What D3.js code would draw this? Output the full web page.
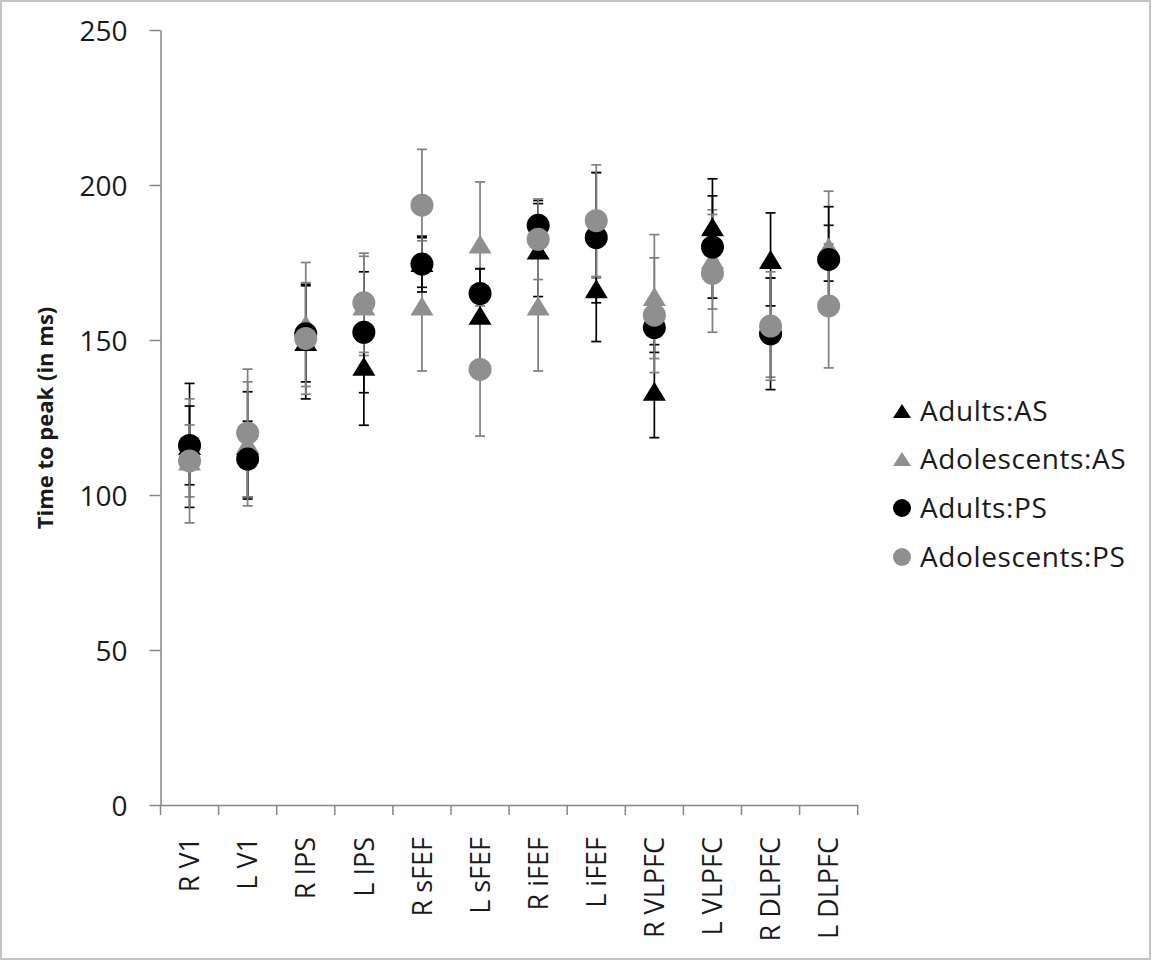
<!DOCTYPE html>
<html>
<head>
<meta charset="utf-8">
<script src="https://cdn.jsdelivr.net/npm/d3@7"></script>
<style>
  body { margin: 0; background: #fff; }
  text { font-family: "Open Sans", sans-serif; fill: #1a1a1a; }
</style>
</head>
<body>
<div id="chart"></div>
<script>
// regions on the x axis
var regions = ["R V1", "L V1", "R IPS", "L IPS", "R sFEF", "L sFEF", "R iFEF", "L iFEF",
               "R VLPFC", "L VLPFC", "R DLPFC", "L DLPFC"];

// time to peak (ms) and error bar half-widths per series
var adultsAS      = [116, 116, 149.5, 141.5, 175, 158, 179, 166.5, 133.5, 186.5, 176, 178];
var adultsASerr   = [20, 17.3, 18.5, 19, 8, 15, 15, 17, 15, 15.5, 15, 9];
var adolAS        = [111, 116.5, 155, 161, 161, 181, 161, 187, 164, 176, 154, 180];
var adolASerr     = [20, 20, 20, 16, 21, 20, 21, 17, 20, 16, 16, 18];
var adultsPS      = [116, 111.6, 152, 152.5, 174.5, 165, 187, 183, 154, 180, 152, 176];
var adultsPSerr   = [12.7, 12.2, 15.5, 19.5, 9, 8, 8, 21, 8, 16.5, 18, 17];
var adolPS        = [111, 120, 150.5, 162, 193.5, 140.5, 182.5, 188.5, 158, 171.5, 154.5, 161];
var adolPSerr     = [11.6, 20.6, 18, 16, 18, 21.5, 13, 18, 18.5, 19, 17.5, 20];

var yTicks = [0, 50, 100, 150, 200, 250];

var series = [
    {name: "Adults:AS", shape: "tri", color: "#000000", vals: adultsAS, errs: adultsASerr},
    {name: "Adolescents:AS", shape: "tri", color: "#8f8f8f", vals: adolAS, errs: adolASerr},
    {name: "Adults:PS", shape: "circ", color: "#000000", vals: adultsPS, errs: adultsPSerr},
    {name: "Adolescents:PS", shape: "circ", color: "#8f8f8f", vals: adolPS, errs: adolPSerr}
];

var W = 1152, H = 961;
var svg = d3.select("#chart").append("svg")
    .attr("width", W).attr("height", H);

// outer frame
svg.append("rect").attr("x", 1).attr("y", 1).attr("width", W - 3).attr("height", H - 3)
    .attr("fill", "#fff").attr("stroke", "#c4c4c4").attr("stroke-width", 2);

var x = d3.scaleBand().domain(regions).range([160.5, 857.7]);
var y = d3.scaleLinear().domain([0, 250]).range([805, 30]);

// y axis
var yAxis = svg.append("g").attr("transform", "translate(160.5,0)")
    .call(d3.axisLeft(y).tickValues(yTicks).tickSize(11).tickPadding(22).tickSizeOuter(0));
yAxis.select(".domain").attr("stroke", "#868686").attr("stroke-width", 1.5);
yAxis.selectAll(".tick line").attr("stroke", "#868686").attr("stroke-width", 1.5);
yAxis.selectAll(".tick text").style("font-size", "28px").attr("fill", "#1a1a1a")
    .style("font-family", "'Open Sans', sans-serif").attr("dy", "0.36em");

// x axis with ticks on band boundaries
var xAxis = svg.append("g").attr("transform", "translate(0,805)")
    .call(d3.axisBottom(x).tickSize(0).tickSizeOuter(0));
xAxis.select(".domain").attr("stroke", "#868686").attr("stroke-width", 1.5);
xAxis.selectAll(".tick text")
    .style("font-size", "27px").attr("fill", "#1a1a1a")
    .style("font-family", "'Open Sans', sans-serif")
    .attr("text-anchor", "end")
    .attr("transform", "rotate(-90)")
    .attr("x", -32).attr("y", 0).attr("dy", "0.36em");

var bounds = regions.map(function(d) { return x(d); }).concat([x.range()[1]]);
svg.append("g").selectAll("line").data(bounds).enter().append("line")
    .attr("x1", d => d).attr("x2", d => d)
    .attr("y1", 805).attr("y2", 815)
    .attr("stroke", "#868686").attr("stroke-width", 1.5);

// y title
svg.append("text")
    .attr("transform", "translate(53,418) rotate(-90)")
    .attr("text-anchor", "middle")
    .style("font-size", "22px").style("font-weight", "bold")
    .text("Time to peak (in ms)");

var cx = function(i) { return x(regions[i]) + x.bandwidth() / 2; };
var triPath = function(w, h) {
    return "M0," + (-h / 2) + "L" + (w / 2) + "," + (h / 2) + "L" + (-w / 2) + "," + (h / 2) + "Z";
};

// error bars (drawn under all markers)
series.forEach(function(s) {
    var g = svg.append("g");
    var barColor = s.color == "#000000" ? "#000" : "#7f7f7f";
    s.vals.forEach(function(v, i) {
        var top = y(v + s.errs[i]), bot = y(v - s.errs[i]), c = cx(i);
        g.append("line").attr("x1", c).attr("x2", c).attr("y1", top).attr("y2", bot)
            .attr("stroke", barColor).attr("stroke-width", 1.7);
        [top, bot].forEach(function(yy) {
            g.append("line").attr("x1", c - 5).attr("x2", c + 5).attr("y1", yy).attr("y2", yy)
                .attr("stroke", barColor).attr("stroke-width", 1.7);
        });
    });
});

// markers
series.forEach(function(s) {
    var g = svg.append("g");
    s.vals.forEach(function(v, i) {
        if (s.shape == "tri") {
            g.append("path").attr("d", triPath(23, 19))
                .attr("transform", "translate(" + cx(i) + "," + y(v) + ")")
                .attr("fill", s.color);
        } else {
            g.append("circle").attr("cx", cx(i)).attr("cy", y(v)).attr("r", 11.5)
                .attr("fill", s.color);
        }
    });
});

// legend
var legend = svg.append("g").attr("transform", "translate(902,0)");
var rowY = [411, 459, 508, 557];
series.forEach(function(s, i) {
    var row = legend.append("g").attr("transform", "translate(0," + rowY[i] + ")");
    if (s.shape == "tri") {
        row.append("path").attr("d", triPath(18, 14)).attr("fill", s.color);
    } else {
        row.append("circle").attr("r", 9).attr("fill", s.color);
    }
    row.append("text").attr("x", 18).attr("dy", "0.36em")
        .style("font-size", "28px").style("letter-spacing", "0.6px")
        .text(s.name);
});
</script>
</body>
</html>
